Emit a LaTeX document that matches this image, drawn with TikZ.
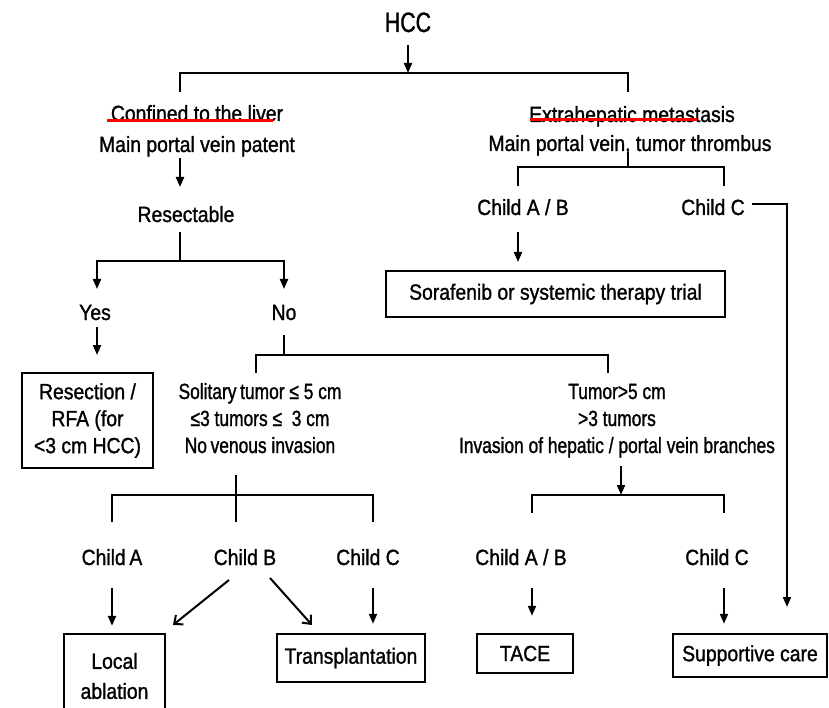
\documentclass[tikz,border=0pt]{standalone}
\usepackage{fontspec}
\setmainfont{Liberation Sans}[FakeStretch=0.88,FakeBold=1.2]
\newfontfamily\hccfont{Liberation Sans}[FakeStretch=0.76,FakeBold=1.2]
\newfontfamily\narrowfont{Liberation Sans}[FakeStretch=0.79,FakeBold=1.2]
\usetikzlibrary{arrows.meta}
\begin{document}
\begin{tikzpicture}[x=1pt,y=-1pt,
 every node/.style={font=\fontsize{22}{27}\selectfont, inner sep=0pt},
 lbl/.style={anchor=base, align=center},
 nlbl/.style={anchor=base, align=center, font=\narrowfont\fontsize{22}{27}\selectfont},
 box/.style={draw, line width=2.4pt, align=center},
 ln/.style={line width=2pt},
 arr/.style={line width=2pt, -{Triangle[length=10pt,width=8pt]}},
 varr/.style={line width=2pt, -{Straight Barb[length=7pt,width=12pt]}},
 redline/.style={red, line width=3pt}]
\useasboundingbox (0,0) rectangle (829,708);
\fill[white] (0,0) rectangle (829,708);

% ---- nodes
\node[lbl, font=\hccfont\fontsize{28}{30}\selectfont] (hcc) at (408,32) {HCC};
\node[lbl] (conf) at (197,121) {Confined to the liver};
\node[lbl] (mpvp) at (197,152) {Main portal vein patent};
\node[lbl] (resect) at (186,222) {Resectable};
\node[lbl] (yes) at (95,320) {Yes};
\node[lbl] (no) at (284,320) {No};
\node[box, minimum width=131pt, minimum height=95pt] (resbox) at (87.5,420.5) {Resection /\\RFA (for\\<3 cm HCC)};
\node[nlbl] (sol) at (260,453) {Solitary\,tumor ≤ 5 cm\\≤3 tumors ≤ \ 3 cm\\No\,venous invasion};
\node[nlbl] (tum) at (617,453) {Tumor>5 cm\\>3 tumors\\Invasion of hepatic / portal vein branches};
\node[lbl] (extra) at (632,122) {Extrahepatic metastasis};
\node[lbl] (mpvt) at (630,151) {Main portal vein, tumor thrombus};
\node[lbl] (cab) at (523,215) {Child A / B};
\node[lbl] (cc) at (713,215) {Child C};
\node[box, minimum width=339pt, minimum height=46pt] (sora) at (555.5,294) {Sorafenib or systemic therapy trial};
\node[lbl] (ca) at (112,565) {Child\,A};
\node[lbl] (cb) at (245,565) {Child B};
\node[lbl] (cc2) at (368,565) {Child C};
\node[lbl] (cab2) at (521,565) {Child A / B};
\node[lbl] (cc3) at (717,565) {Child C};
\node[box, minimum width=101pt, minimum height=84pt, font=\fontsize{22}{30}\selectfont] (local) at (114.5,676) {Local\\ablation};
\node[box, minimum width=148pt, minimum height=48pt] (trans) at (351,658) {Transplantation};
\node[box, minimum width=96pt, minimum height=39pt] (tace) at (525,653.5) {TACE};
\node[box, minimum width=154pt, minimum height=43pt] (supp) at (750,655.5) {Supportive care};

% ---- red underlines
\draw[redline] (107,121) -- (273,121);
\draw[redline] (530,120) -- (697,120);

% ---- junction coordinates
\coordinate (hb) at (408,73);
\coordinate (lt) at (180,92);
\coordinate (rt) at (628,92);
\coordinate (m1) at (180,158);
\coordinate (m2) at (180,187);
\coordinate (r0) at (180,232);
\coordinate (rb) at (180,261);
\coordinate (ya) at (97,289);
\coordinate (na) at (284,289);
\coordinate (y0) at (97,327);
\coordinate (y1) at (97,355);
\coordinate (n0) at (284,335);
\coordinate (nb) at (284,355);
\coordinate (s0) at (256,373);
\coordinate (t0) at (608,373);
\coordinate (sb0) at (236,475);
\coordinate (sbb) at (236,495);
\coordinate (caT) at (112,522);
\coordinate (cbT) at (236,522);
\coordinate (ccT) at (373,522);
\coordinate (tb0) at (621,466);
\coordinate (tbb) at (621,495);
\coordinate (cabT) at (532,513);
\coordinate (ccT3) at (724,513);
\coordinate (mt0) at (628,152);
\coordinate (mtb) at (628,167);
\coordinate (cabU) at (518,186);
\coordinate (ccU) at (724,186);
\coordinate (sa0) at (518,232);
\coordinate (sa) at (518,262);
\coordinate (cend) at (787,607);
\coordinate (bl0) at (229,580);
\coordinate (bl1) at (173,625);
\coordinate (br0) at (270,578);
\coordinate (br1) at (312,625);

% ---- connectors
\draw[arr] ([yshift=-13pt]hcc.base) -- (hb);
\draw[ln] (lt) |- (hb) -| (rt);
\draw[arr] (m1) -- (m2);
\draw[ln] (r0) -- (rb);
\draw[arr] (rb) -| (ya);
\draw[arr] (rb) -| (na);
\draw[arr] (y0) -- (y1);
\draw[ln] (n0) -- (nb);
\draw[ln] (s0) |- (nb) -| (t0);
\draw[ln] (sb0) -- (cbT);
\draw[ln] (caT) |- (sbb) -| (ccT);
\draw[arr] (tb0) -- (tbb);
\draw[ln] (cabT) |- (tbb) -| (ccT3);
\draw[ln] (mt0) -- (mtb);
\draw[ln] (cabU) |- (mtb) -| (ccU);
\draw[arr] (sa0) -- (sa);
\draw[arr] ([xshift=7pt,yshift=3pt]cc.east) -| (cend);
\draw[arr, shorten >=7pt] ([yshift=-23pt]ca.base) -- (ca.base |- local.north);
\draw[varr] (bl0) -- (bl1);
\draw[varr] (br0) -- (br1);
\draw[arr, shorten >=9pt] ([xshift=5pt,yshift=-23pt]cc2.base) -- ([xshift=5pt]cc2.base |- trans.north);
\draw[arr, shorten >=17pt] ([xshift=11pt,yshift=-23pt]cab2.base) -- ([xshift=11pt]cab2.base |- tace.north);
\draw[arr, shorten >=9pt] ([xshift=7pt,yshift=-23pt]cc3.base) -- ([xshift=7pt]cc3.base |- supp.north);
\end{tikzpicture}
\end{document}
